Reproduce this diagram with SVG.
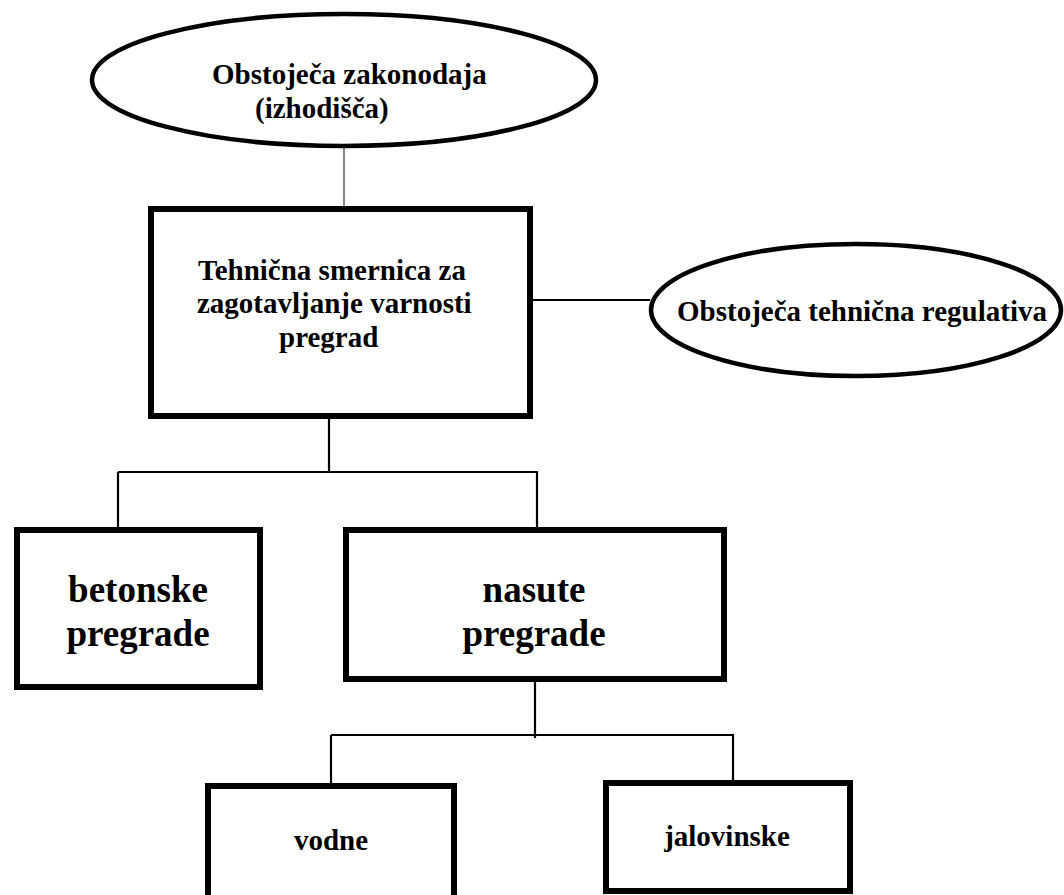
<svg xmlns="http://www.w3.org/2000/svg" width="1064" height="895" viewBox="0 0 1064 895">
  <style>
    .box { fill: #ffffff; stroke: #000000; stroke-width: 6; }
    .oval { fill: #ffffff; stroke: #000000; stroke-width: 4.5; }
    .link { fill: none; stroke: #000000; stroke-width: 2.2; }
    .thin { fill: none; stroke: #333333; stroke-width: 1.2; }
    .t { font-family: "Liberation Serif", "Times New Roman", serif; font-weight: bold; fill: #000000; }
    .s { font-size: 29px; }
    .l { font-size: 37px; }
  </style>
  <rect width="1064" height="895" fill="#ffffff"/>

  <!-- connectors -->
  <g id="connectors">
    <line class="thin" x1="344" y1="147" x2="344" y2="207"/>
    <line class="link" x1="533" y1="300" x2="650" y2="300"/>
    <line class="link" x1="329" y1="419" x2="329" y2="473"/>
    <line class="link" x1="118" y1="472" x2="538" y2="472"/>
    <line class="link" x1="118" y1="472" x2="118" y2="528"/>
    <line class="link" x1="537" y1="472" x2="537" y2="528"/>
    <line class="link" x1="535" y1="682" x2="535" y2="738"/>
    <line class="link" x1="331" y1="735" x2="734" y2="735"/>
    <line class="link" x1="331" y1="735" x2="331" y2="784"/>
    <line class="link" x1="733" y1="735" x2="733" y2="781"/>
  </g>

  <!-- existing legislation -->
  <g id="node-zakonodaja">
    <ellipse class="oval" cx="344" cy="80" rx="252" ry="66"/>
    <text class="t s" x="212" y="84">Obstoječa zakonodaja</text>
    <text class="t s" x="255" y="118">(izhodišča)</text>
  </g>

  <!-- technical guideline -->
  <g id="node-smernica">
    <rect class="box" x="151" y="209" width="379" height="207"/>
    <text class="t s" x="198" y="280">Tehnična smernica za</text>
    <text class="t s" x="197" y="313">zagotavljanje varnosti</text>
    <text class="t s" x="279" y="347">pregrad</text>
  </g>

  <!-- existing technical regulation -->
  <g id="node-regulativa">
    <ellipse class="oval" cx="856" cy="310" rx="205" ry="66"/>
    <text class="t s" x="677" y="321">Obstoječa tehnična regulativa</text>
  </g>

  <!-- concrete dams -->
  <g id="node-betonske">
    <rect class="box" x="17" y="530" width="243" height="157"/>
    <text class="t l" x="138" y="602" text-anchor="middle">betonske</text>
    <text class="t l" x="138" y="646" text-anchor="middle">pregrade</text>
  </g>

  <!-- embankment dams -->
  <g id="node-nasute">
    <rect class="box" x="346" y="530" width="378" height="149"/>
    <text class="t l" x="534" y="602" text-anchor="middle">nasute</text>
    <text class="t l" x="534" y="646" text-anchor="middle">pregrade</text>
  </g>

  <!-- water dams -->
  <g id="node-vodne">
    <rect class="box" x="208" y="786" width="246" height="130"/>
    <text class="t s" x="331" y="850" text-anchor="middle">vodne</text>
  </g>

  <!-- tailings dams -->
  <g id="node-jalovinske">
    <rect class="box" x="606" y="783" width="244" height="108"/>
    <text class="t s" x="727" y="846" text-anchor="middle">jalovinske</text>
  </g>
</svg>
